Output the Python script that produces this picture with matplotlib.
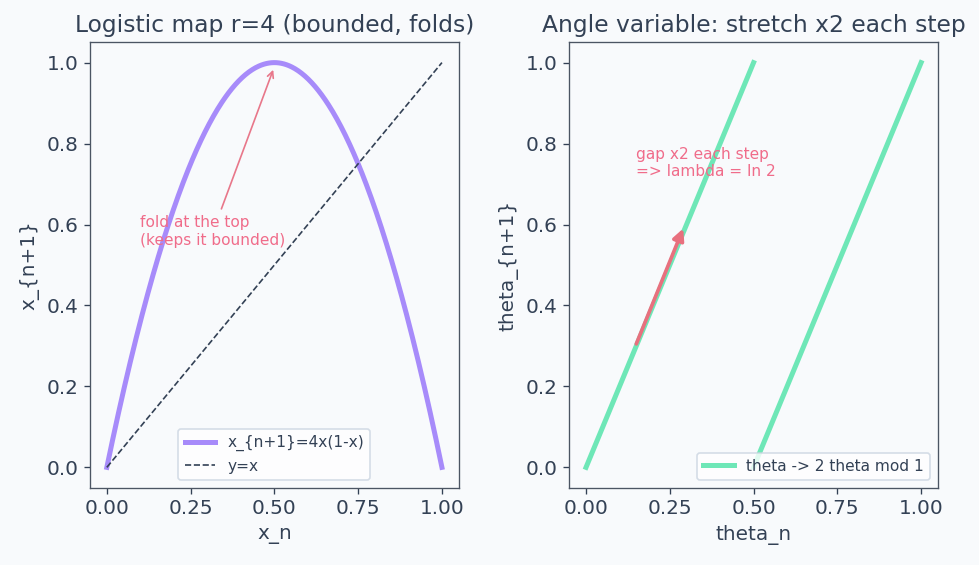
import numpy as np
import matplotlib.pyplot as plt

plt.rcParams['font.family'] = ['DejaVu Sans']
ink = '#334155'
plt.rcParams.update({
    'text.color': ink, 'axes.labelcolor': ink, 'xtick.color': ink, 'ytick.color': ink,
    'axes.edgecolor': '#4b5563', 'font.size': 12,
    'xtick.labelsize': 12, 'ytick.labelsize': 12,
})

# data
x = np.linspace(0, 1, 400)
logistic = 4 * x * (1 - x)
theta_a = np.linspace(0, 0.5, 100)
theta_b = np.linspace(0.5, 1, 100)
map_a = 2 * theta_a
map_b = 2 * theta_b - 1

bg = '#f8fafc'
purple = '#a78bfa'
green = '#6ee7b7'
note = '#f06c8a'

fig, (ax1, ax2) = plt.subplots(1, 2, figsize=(979 / 120, 565 / 120), dpi=120)
fig.patch.set_facecolor(bg)
for ax in (ax1, ax2):
    ax.set_facecolor(bg)
    ax.set_xticks([0, 0.25, 0.5, 0.75, 1.0])
    ax.set_yticks([0, 0.2, 0.4, 0.6, 0.8, 1.0])

ax1.plot(x, logistic, color=purple, lw=3, label='x_{n+1}=4x(1-x)')
ax1.plot([0, 1], [0, 1], '--', color='#334155', lw=1.0, label='y=x')
ax1.annotate('fold at the top\n(keeps it bounded)', xy=(0.5, 0.99), xytext=(0.1, 0.55),
             color=note, fontsize=9.2,
             arrowprops=dict(arrowstyle='->', color='#e8778a', lw=1.0))
ax1.set_title('Logistic map r=4 (bounded, folds)', fontsize=14)
ax1.set_xlabel('x_n')
ax1.set_ylabel('x_{n+1}')
ax1.legend(loc='lower center', fontsize=9.2, facecolor='white', edgecolor='#cbd5e1')

ax2.plot(theta_a, map_a, color=green, lw=3, label='theta -> 2 theta mod 1')
ax2.plot(theta_b, map_b, color=green, lw=3)
ax2.annotate('', xy=(0.29, 0.59), xytext=(0.15, 0.305),
             arrowprops=dict(arrowstyle='-|>', color='#e8707e', lw=2.2,
                             mutation_scale=14, shrinkA=0, shrinkB=0))
ax2.text(0.15, 0.72, 'gap x2 each step\n=> lambda = ln 2', color=note, fontsize=9.2)
ax2.set_title('Angle variable: stretch x2 each step', fontsize=14)
ax2.set_xlabel('theta_n')
ax2.set_ylabel('theta_{n+1}')
ax2.legend(loc='lower right', fontsize=9.2, facecolor='white', edgecolor='#cbd5e1')

plt.subplots_adjust(left=0.092, right=0.958, top=0.925, bottom=0.137, wspace=0.3)
plt.savefig('out.png', facecolor=bg)
